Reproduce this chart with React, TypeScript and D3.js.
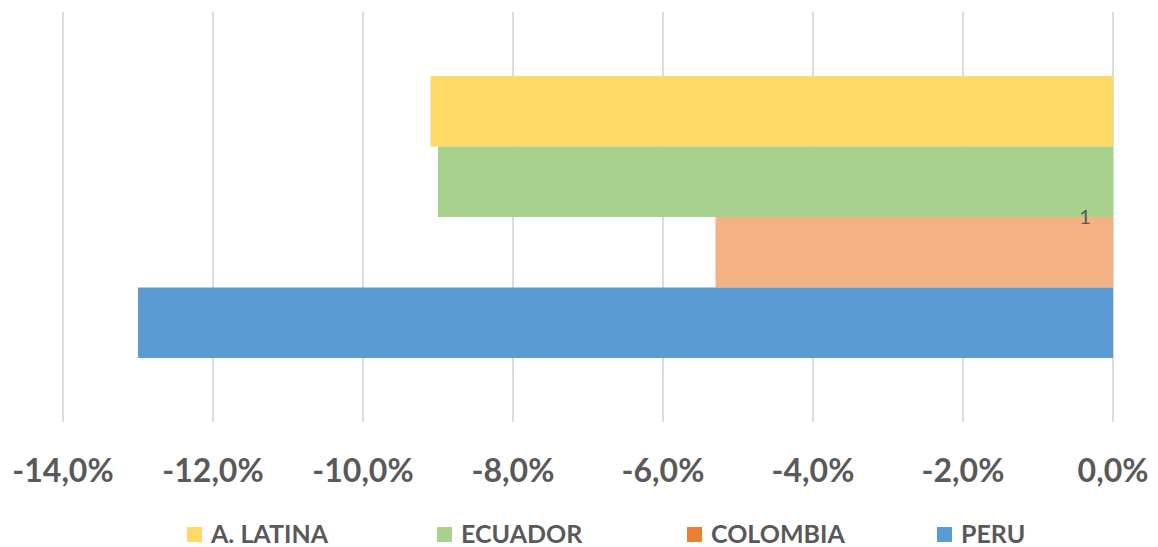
import React from "react";
import * as d3 from "d3";

const categories = ["1"];
const seriesNames = ["A. LATINA", "ECUADOR", "COLOMBIA", "PERU"];
const seriesValues = [-0.091, -0.09, -0.053, -0.13];
const barColors = ["#FED966", "#A9D18E", "#F4B183", "#5B9BD5"];
const legendColors = ["#FED966", "#A9D18E", "#ED7D31", "#5B9BD5"];
const tickValues = [-0.14, -0.12, -0.1, -0.08, -0.06, -0.04, -0.02, 0];

const width = 1158;
const height = 547;
const plot = { left: 63, right: 1113, top: 12, bottom: 422 };

const locale = d3.formatLocale({
  decimal: ",",
  thousands: ".",
  grouping: [3],
  currency: ["", ""],
  minus: "-",
});
const fmt = locale.format(".1%");

const App = () => {
  const x = d3.scaleLinear().domain([-0.14, 0]).range([plot.left, plot.right]);

  const y = d3
    .scaleBand<string>()
    .domain(categories)
    .range([plot.top, plot.bottom])
    .paddingInner(0)
    .paddingOuter(0.227);

  const ySeries = d3
    .scaleBand<string>()
    .domain(seriesNames)
    .range([0, y.bandwidth()]);

  const font = "Lato, 'Open Sans', sans-serif";

  return (
    <svg
      width={width}
      height={height}
      style={{ position: "absolute", left: 0, top: 0, background: "#fff" }}
    >
      {/* gridlines */}
      {tickValues.map((t) => (
        <line
          key={t}
          x1={x(t)}
          x2={x(t)}
          y1={plot.top}
          y2={plot.bottom}
          stroke="#d9d9d9"
          strokeWidth={1.8}
        />
      ))}

      {/* bars */}
      {categories.map((c) => (
        <g key={c} transform={`translate(0, ${y(c)})`}>
          {seriesNames.map((s, i) => {
            const v = seriesValues[i];
            return (
              <rect
                key={s}
                x={x(Math.min(0, v))}
                y={ySeries(s)}
                width={Math.abs(x(v) - x(0))}
                height={ySeries.bandwidth()}
                fill={barColors[i]}
              />
            );
          })}
          <text
            x={x(0) - 28}
            y={y.bandwidth() / 2}
            dy="0.35em"
            textAnchor="middle"
            fill="#595959"
            style={{ fontFamily: font, fontSize: "20px" }}
          >
            {c}
          </text>
        </g>
      ))}

      {/* x axis labels */}
      {tickValues.map((t) => (
        <text
          key={t}
          x={x(t)}
          y={482}
          textAnchor="middle"
          fill="#595959"
          style={{ fontFamily: font, fontSize: "32px", fontWeight: "bold" }}
        >
          {fmt(t)}
        </text>
      ))}

      {/* legend */}
      {seriesNames.map((s, i) => (
        <g key={s} transform={`translate(${187 + i * 250}, 527)`}>
          <rect x={0} y={0} width={15} height={15} fill={legendColors[i]} />
          <text
            x={24}
            y={16}
            fill="#595959"
            style={{ fontFamily: font, fontSize: "25px", fontWeight: "bold" }}
          >
            {s}
          </text>
        </g>
      ))}
    </svg>
  );
};

export default App;
